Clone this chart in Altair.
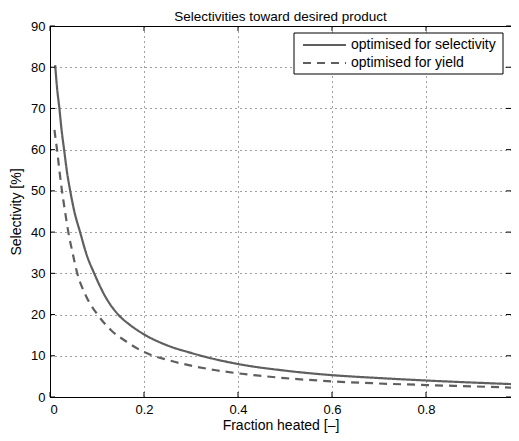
import altair as alt
import pandas as pd

# Data
series = ["optimised for selectivity", "optimised for yield"]

sel_x = [0.011, 0.015, 0.02, 0.025, 0.03, 0.036, 0.043, 0.052, 0.064, 0.078, 0.094, 0.118,
         0.145, 0.17, 0.2, 0.25, 0.3, 0.35, 0.4, 0.5, 0.6, 0.7, 0.8, 0.9, 0.99]
sel_y = [80.5, 75.0, 70.0, 64.4, 60.0, 54.7, 50.0, 44.9, 40.0, 34.5, 30.0, 24.3,
         20.0, 17.5, 15.2, 12.5, 10.7, 9.2, 8.0, 6.4, 5.3, 4.6, 4.0, 3.5, 3.1]

yld_x = [0.0095, 0.012, 0.015, 0.02, 0.0255, 0.032, 0.039, 0.048, 0.058, 0.075, 0.101, 0.13,
         0.163, 0.2, 0.25, 0.3, 0.35, 0.4, 0.5, 0.6, 0.7, 0.8, 0.9, 0.99]
yld_y = [64.8, 62.5, 60.0, 55.0, 50.0, 45.0, 40.0, 35.0, 30.0, 24.9, 20.0, 16.2,
         13.4, 10.9, 9.0, 7.6, 6.55, 5.75, 4.58, 3.8, 3.28, 2.9, 2.58, 2.25]

x_ticks = [0, 0.2, 0.4, 0.6, 0.8]
y_ticks = [0, 10, 20, 30, 40, 50, 60, 70, 80, 90]

df = pd.concat([
    pd.DataFrame({"x": sel_x, "y": sel_y, "series": series[0]}),
    pd.DataFrame({"x": yld_x, "y": yld_y, "series": series[1]}),
])
xt = pd.DataFrame({"v": x_ticks})
yt = pd.DataFrame({"v": y_ticks})

W, H = 461, 371
FONT = "Liberation Sans"
LINE = "#5f5f5f"
DASH = [8, 6]
xs = alt.Scale(domain=[0, W / 470], nice=False, zero=False)
ys = alt.Scale(domain=[0, 90], nice=False)

grid = dict(grid=True, gridColor="#000000", gridDash=[1, 4], gridWidth=1, gridOpacity=0.75)

lines = alt.Chart(df).mark_line(strokeWidth=2.2, interpolate="monotone", color=LINE, clip=True).encode(
    x=alt.X("x:Q", scale=xs, axis=alt.Axis(values=x_ticks, format=".1~f", title="Fraction heated [–]",
                                            ticks=False, labelPadding=6, titlePadding=2, **grid)),
    y=alt.Y("y:Q", scale=ys, axis=alt.Axis(values=y_ticks, format="d", title="Selectivity [%]",
                                            ticks=False, labelPadding=5, titlePadding=7, **grid)),
    strokeDash=alt.StrokeDash("series:N", scale=alt.Scale(domain=series, range=[[1, 0], DASH]), legend=None),
)

# inward tick marks on all four sides
tb = alt.Chart(xt).mark_rule(color="black").encode(x=alt.X("v:Q", scale=xs), y=alt.value(H), y2=alt.value(H - 5))
tt = alt.Chart(xt).mark_rule(color="black").encode(x=alt.X("v:Q", scale=xs), y=alt.value(0), y2=alt.value(5))
tl = alt.Chart(yt).mark_rule(color="black").encode(y=alt.Y("v:Q", scale=ys), x=alt.value(0), x2=alt.value(5))
tr = alt.Chart(yt).mark_rule(color="black").encode(y=alt.Y("v:Q", scale=ys), x=alt.value(W), x2=alt.value(W - 5))

# legend box (manual, to match the boxed legend of the reference)
LX0, LX1, LY0, LY1 = W - 8 - 209, W - 8, 7, 48
box = alt.Chart().mark_rect(fill="white", stroke="black", strokeWidth=1).encode(
    x=alt.value(LX0), x2=alt.value(LX1), y=alt.value(LY0), y2=alt.value(LY1))
s1 = alt.Chart().mark_rule(color=LINE, strokeWidth=2.2).encode(
    x=alt.value(LX0 + 9), x2=alt.value(LX0 + 52), y=alt.value(LY0 + 12))
s2 = alt.Chart().mark_rule(color=LINE, strokeWidth=2.2, strokeDash=DASH).encode(
    x=alt.value(LX0 + 9), x2=alt.value(LX0 + 52), y=alt.value(LY0 + 30))
t1 = alt.Chart().mark_text(text=series[0], align="left", baseline="middle", font=FONT, fontSize=14,
                           color="black").encode(x=alt.value(LX0 + 57), y=alt.value(LY0 + 12))
t2 = alt.Chart().mark_text(text=series[1], align="left", baseline="middle", font=FONT, fontSize=14,
                           color="black").encode(x=alt.value(LX0 + 57), y=alt.value(LY0 + 30))

chart = alt.layer(lines, tb, tt, tl, tr, box, s1, s2, t1, t2).properties(
    width=W, height=H,
    title=alt.TitleParams("Selectivities toward desired product", fontSize=13.5, fontWeight="normal",
                          font=FONT, color="black", offset=0, dy=3, frame="group"),
    autosize=alt.AutoSizeParams(type="none"),
    padding={"left": 42, "top": 18, "right": 0, "bottom": 36},
).configure_view(stroke="black", strokeWidth=1).configure_axis(
    domainColor="black", domainWidth=1, labelFont=FONT, titleFont=FONT, labelFontSize=13,
    titleFontSize=14, labelColor="black", titleColor="black", titleFontWeight="normal",
)

chart.save("out.html", embed_options={"renderer": "svg", "actions": False})
